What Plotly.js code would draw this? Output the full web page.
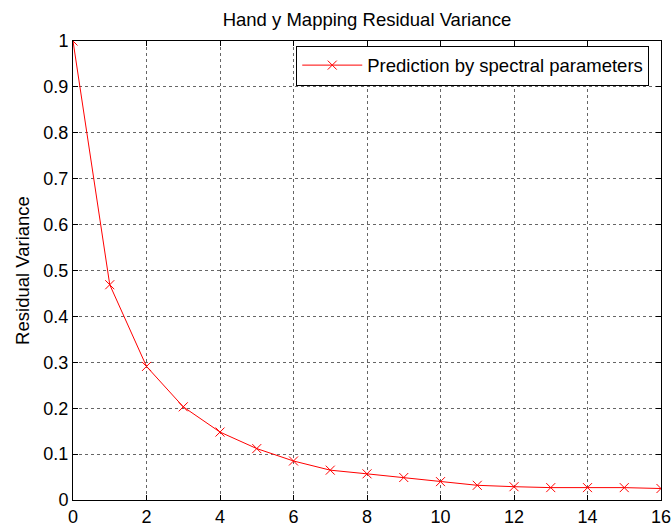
<!DOCTYPE html>
<html>
<head>
<meta charset="utf-8">
<script src="https://cdn.plot.ly/plotly-3.0.1.min.js"></script>
<style>
  html, body { margin: 0; padding: 0; background: #fff; }
  #chart { width: 672px; height: 527px; }
</style>
</head>
<body>
<div id="chart"></div>
<script>
// Number of spectral parameters used in the prediction
const numParams = [0, 1, 2, 3, 4, 5, 6, 7, 8, 9, 10, 11, 12, 13, 14, 15, 16];
// Residual variance of the hand y mapping
const residualVariance = [1.0, 0.469, 0.291, 0.203, 0.148, 0.112, 0.085, 0.065, 0.057,
                          0.049, 0.040, 0.032, 0.029, 0.027, 0.027, 0.027, 0.025];
const seriesName = 'Prediction by spectral parameters';

const fontFamily = 'Liberation Sans, Arial, sans-serif';

const trace = {
  x: numParams,
  y: residualVariance,
  name: seriesName,
  type: 'scatter',
  mode: 'lines+markers',
  line: { color: '#ff0000', width: 1 },
  marker: { symbol: 'x-thin-open', size: 9, color: '#ff0000', line: { color: '#ff0000', width: 1 } }
};

const axisCommon = {
  showline: true,
  linecolor: '#000',
  linewidth: 1,
  mirror: 'ticks',
  ticks: 'inside',
  ticklen: 5,
  tickcolor: '#000',
  showgrid: true,
  gridcolor: '#666',
  griddash: 'dot',
  gridwidth: 1,
  zeroline: false,
  tickfont: { family: fontFamily, size: 18, color: '#000' }
};

const layout = {
  width: 672,
  height: 527,
  margin: { l: 73, r: 11, t: 41, b: 27 },
  paper_bgcolor: '#fff',
  plot_bgcolor: '#fff',
  font: { family: fontFamily, color: '#000' },
  title: {
    text: 'Hand y Mapping Residual Variance',
    font: { family: fontFamily, size: 18.5, color: '#000' },
    xref: 'paper', x: 0.5, xanchor: 'center',
    yref: 'container', y: 1 - 20 / 527, yanchor: 'middle'
  },
  xaxis: Object.assign({}, axisCommon, {
    range: [0, 16],
    tickmode: 'linear', tick0: 0, dtick: 2
  }),
  yaxis: Object.assign({}, axisCommon, {
    range: [0, 1],
    tickmode: 'linear', tick0: 0, dtick: 0.1,
    title: { text: 'Residual Variance', font: { family: fontFamily, size: 18.5, color: '#000' }, standoff: 8 }
  }),
  showlegend: true,
  legend: {
    x: 0.98, xanchor: 'right',
    y: 0.99, yanchor: 'top',
    bgcolor: '#fff',
    bordercolor: '#000',
    borderwidth: 1,
    font: { family: fontFamily, size: 18.5, color: '#000' },
    itemwidth: 60
  }
};

Plotly.newPlot('chart', [trace], layout, { displayModeBar: false, staticPlot: true });
</script>
</body>
</html>
